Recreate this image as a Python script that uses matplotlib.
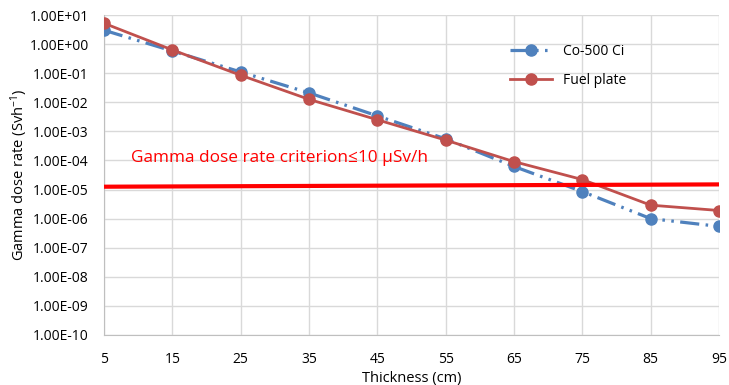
import matplotlib
matplotlib.use("Agg")
import matplotlib.pyplot as plt
from matplotlib.ticker import FixedLocator, FuncFormatter, NullLocator

thickness = [5, 15, 25, 35, 45, 55, 65, 75, 85, 95]
co500 = [3.0, 0.58, 0.11, 0.021, 3.4e-3, 5.5e-4, 6.2e-5, 8.5e-6, 1.0e-6, 5.4e-7]
fuel = [5.2, 0.63, 0.085, 0.0126, 2.5e-3, 5.0e-4, 9.1e-5, 2.2e-5, 2.9e-6, 1.9e-6]
crit_x = [5, 95]
crit_y = [1.25e-5, 1.5e-5]
yticks = [10.0 ** e for e in range(-10, 2)]

plt.rcParams['font.family'] = ['Open Sans', 'DejaVu Sans']
plt.rcParams['mathtext.default'] = 'regular'

fig = plt.figure(figsize=(7.29, 3.85), dpi=100)
ax = fig.add_axes([0.1427, 0.130, 0.8436, 0.831])

blue = '#4F81BD'
red = '#C0504D'

ax.plot(thickness, co500, color=blue, lw=2.3, marker='o', ms=8,
        dashes=(6, 2, 0.8, 2, 0.8, 2), label='Co-500 Ci', zorder=3)
ax.plot(thickness, fuel, color=red, lw=2.0, marker='o', ms=8,
        label='Fuel plate', zorder=4)
ax.plot(crit_x, crit_y, color='#FF0000', lw=3, zorder=5, solid_capstyle='butt')

ax.text(8.9, 1.2e-4, 'Gamma dose rate criterion\u226410 \u00b5Sv/h', color='#FF0000',
        fontsize=12.4, va='center', ha='left')

ax.set_yscale('log')
ax.set_ylim(1e-10, 10)
ax.set_xlim(5, 95)
ax.yaxis.set_major_locator(FixedLocator(yticks))
ax.yaxis.set_minor_locator(NullLocator())
ax.yaxis.set_major_formatter(FuncFormatter(lambda v, p: '%.2E' % v))
ax.set_xticks(thickness)

ax.grid(True, color='#D9D9D9', lw=1)
ax.set_axisbelow(True)
for s in ['top', 'right']:
    ax.spines[s].set_visible(False)
for s in ['left', 'bottom']:
    ax.spines[s].set_color('#BFBFBF')
ax.tick_params(length=0, labelsize=10, colors='black')
ax.tick_params(axis='y', pad=11)
ax.tick_params(axis='x', pad=12)

ax.set_xlabel('Thickness (cm)', fontsize=10.5, labelpad=3)
ax.set_ylabel('Gamma dose rate (Svh$^{-1}$)', fontsize=10.5, labelpad=0)

leg = ax.legend(loc='upper left', bbox_to_anchor=(0.64, 0.95), frameon=False,
                fontsize=10, handlelength=3, labelspacing=1.05)

fig.savefig('out.png', dpi=100)
